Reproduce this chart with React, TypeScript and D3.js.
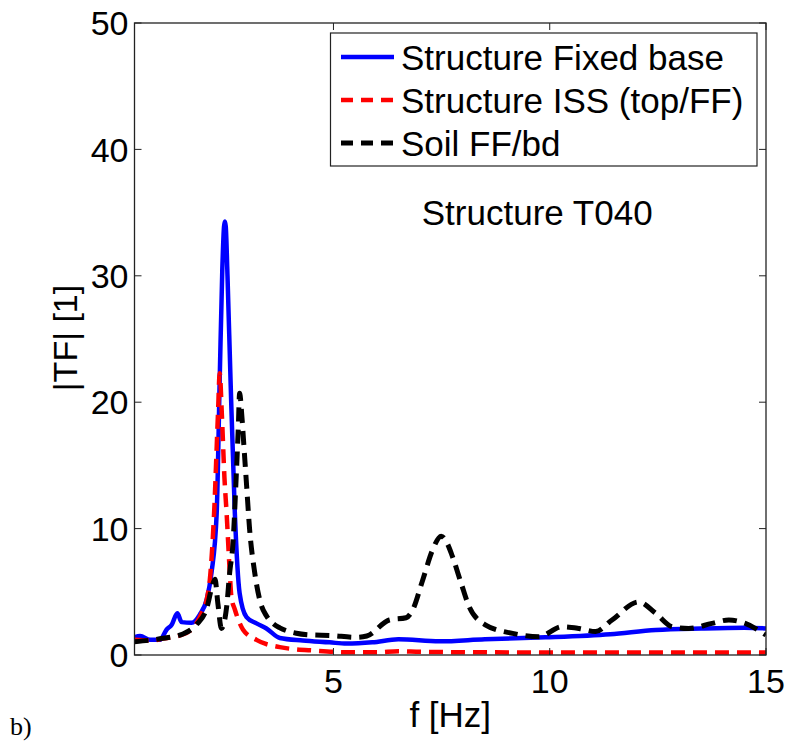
import React from 'react';
import * as d3 from 'd3';

// Structure fixed base (solid blue)
const fixedFreq = [0.4, 0.53, 0.76, 0.99, 1.14, 1.26, 1.39, 1.49, 1.72, 1.91, 2.07, 2.18, 2.3, 2.37, 2.43, 2.47, 2.49, 2.51, 2.55, 2.62, 2.72, 2.83, 2.99, 3.22, 3.45, 3.76, 4.29, 4.91, 5.3, 5.9, 6.5, 7.45, 8.5, 9.9, 11.4, 12.45, 13.5, 14.5, 15];
const fixedTF = [1.4, 1.5, 1.2, 1.2, 2.0, 2.4, 3.3, 2.6, 2.55, 3.2, 4.4, 6.5, 11.2, 21.8, 30.5, 33.9, 34.3, 33.9, 30, 21.8, 11.2, 4.9, 3.0, 2.5, 2.1, 1.35, 1.15, 1.0, 0.9, 1.0, 1.24, 1.08, 1.25, 1.4, 1.65, 1.98, 2.1, 2.16, 2.1];

// Structure ISS top/FF (red dashed)
const issFreq = [0.4, 0.8, 1.06, 1.5, 1.83, 1.95, 2.07, 2.14, 2.24, 2.33, 2.37, 2.42, 2.48, 2.53, 2.6, 2.64, 2.72, 2.91, 3.22, 3.76, 4.6, 5.3, 6, 6.5, 7, 8, 10, 12, 15];
const issTF = [1.2, 1.15, 1.3, 1.6, 2.5, 3.3, 4.4, 5.9, 11.2, 19.1, 22.3, 19, 14, 11.2, 6.7, 4.6, 3.6, 2.0, 1.2, 0.62, 0.34, 0.22, 0.22, 0.3, 0.25, 0.22, 0.2, 0.2, 0.2];

// Soil FF/bd (black dashed)
const soilFreq = [0.4, 1.06, 1.52, 1.83, 2.07, 2.2, 2.26, 2.33, 2.41, 2.53, 2.6, 2.68, 2.75, 2.8, 2.83, 2.88, 2.93, 2.99, 3.06, 3.18, 3.3, 3.45, 3.6, 3.76, 4.14, 4.52, 4.91, 5.53, 5.77, 6.29, 6.68, 6.83, 7.06, 7.29, 7.49, 7.62, 7.75, 7.95, 8.14, 8.52, 9.14, 9.75, 10.29, 10.68, 11.06, 11.44, 12.06, 12.45, 12.83, 13.21, 13.75, 14.14, 14.52, 15];
const soilTF = [1.05, 1.32, 1.66, 2.4, 3.7, 5.5, 6.0, 4.0, 2.1, 3.8, 6.5, 9, 14, 18, 20.7, 19, 16.5, 13.5, 10, 6.5, 4.3, 3.1, 2.5, 2.15, 1.72, 1.58, 1.55, 1.4, 1.5, 2.77, 2.95, 3.56, 5.9, 8.3, 9.4, 8.9, 7.8, 5.7, 3.8, 2.37, 1.71, 1.45, 2.24, 2.1, 1.85, 2.77, 4.2, 3.3, 2.24, 2.1, 2.5, 2.77, 2.5, 1.58];

const xTicks = [5, 10, 15];
const yTicks = [0, 10, 20, 30, 40, 50];

const legendLabels = ['Structure Fixed base', 'Structure ISS (top/FF)', 'Soil FF/bd'];

const W = 787;
const H = 745;
const margin = { top: 23, right: 21, bottom: 90, left: 134.5 };
const FONT = '"Liberation Sans", Arial, Helvetica, sans-serif';

export default function App() {
  const innerW = W - margin.left - margin.right;
  const innerH = H - margin.top - margin.bottom;

  const x = d3.scaleLinear().domain([0.4, 15]).range([0, innerW]);
  const y = d3.scaleLinear().domain([0, 50]).range([innerH, 0]);

  const line = d3.line<[number, number]>()
    .x(d => x(d[0]))
    .y(d => y(d[1]))
    .curve(d3.curveMonotoneX);

  const series = [
    { freq: fixedFreq, tf: fixedTF, color: '#0000ff', dash: undefined, width: 4.5 },
    { freq: issFreq, tf: issTF, color: '#ff0000', dash: '14,8', width: 4.5 },
    { freq: soilFreq, tf: soilTF, color: '#000000', dash: '14,8', width: 5 },
  ];

  const tickLen = 7;

  return (
    <svg width={W} height={H} style={{ position: 'absolute', left: 0, top: 0, background: '#fff' }}>
      <defs>
        <clipPath id="plotClip">
          <rect x={0} y={0} width={innerW} height={innerH} />
        </clipPath>
      </defs>
      <g transform={`translate(${margin.left},${margin.top})`}>
        {/* data lines */}
        <g clipPath="url(#plotClip)">
          {series.map((s, i) => (
            <path
              key={i}
              d={line(s.freq.map((f, j) => [f, s.tf[j]] as [number, number])) || ''}
              fill="none"
              stroke={s.color}
              strokeWidth={s.width}
              strokeDasharray={s.dash}
              strokeLinejoin="round"
            />
          ))}
        </g>

        {/* axes box */}
        <rect x={0} y={0} width={innerW} height={innerH} fill="none" stroke="#222" strokeWidth={1.3} />

        {/* x ticks */}
        {xTicks.map(t => (
          <g key={`x${t}`}>
            <line x1={x(t)} x2={x(t)} y1={innerH} y2={innerH - tickLen} stroke="#222" strokeWidth={1} />
            <line x1={x(t)} x2={x(t)} y1={0} y2={tickLen} stroke="#222" strokeWidth={1} />
            <text x={x(t)} y={innerH + 38} textAnchor="middle" fontFamily={FONT} fontSize={34}>{t}</text>
          </g>
        ))}

        {/* y ticks */}
        {yTicks.map(t => (
          <g key={`y${t}`}>
            <line x1={0} x2={tickLen} y1={y(t)} y2={y(t)} stroke="#222" strokeWidth={1} />
            <line x1={innerW} x2={innerW - tickLen} y1={y(t)} y2={y(t)} stroke="#222" strokeWidth={1} />
            <text x={-6} y={y(t)} dy="0.36em" textAnchor="end" fontFamily={FONT} fontSize={34}>{t}</text>
          </g>
        ))}

        {/* annotation */}
        <text x={x(9.71)} y={y(34.0)} textAnchor="middle" fontFamily={FONT} fontSize={35}>Structure T040</text>
      </g>

      {/* axis labels */}
      <text x={margin.left + x(7.7)} y={727} textAnchor="middle" fontFamily={FONT} fontSize={35}>f [Hz]</text>
      <text transform="translate(77,338) rotate(-90)" textAnchor="middle" fontFamily={FONT} fontSize={34}>|TF| [1]</text>

      {/* legend */}
      <g>
        <rect x={330.5} y={33} width={426.5} height={133} fill="#fff" stroke="#222" strokeWidth={1.2} />
        {legendLabels.map((lab, i) => (
          <g key={lab} transform={`translate(0,${57 + i * 43})`}>
            <line x1={341} x2={394} y1={0} y2={0} stroke={series[i].color} strokeWidth={series[i].width} strokeDasharray={series[i].dash ? '12,8' : undefined} />
            <text x={401} y={12.5} fontFamily={FONT} fontSize={35}>{lab}</text>
          </g>
        ))}
      </g>

      <text x={10} y={735} fontFamily='"Liberation Serif", "Times New Roman", serif' fontSize={26}>b)</text>
    </svg>
  );
}
